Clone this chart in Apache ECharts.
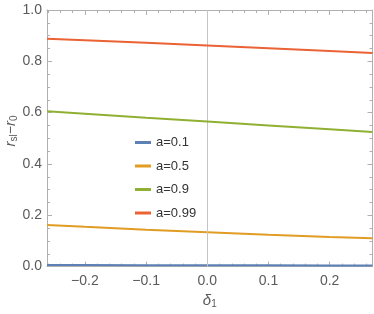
<!DOCTYPE html>
<html><head><meta charset="utf-8">
<script src="https://cdn.jsdelivr.net/npm/echarts@6/dist/echarts.min.js"></script>
<style>html,body{margin:0;padding:0;background:#fff}#c{width:374px;height:314px}</style>
</head><body><div id="c"></div>
<script>
const deltas = [-0.262, -0.2, -0.1, 0.0, 0.1, 0.2, 0.27];
const a01  = [0.006, 0.006, 0.005, 0.005, 0.005, 0.004, 0.004];
const a05  = [0.162, 0.155, 0.144, 0.134, 0.124, 0.115, 0.110];
const a09  = [0.605, 0.596, 0.580, 0.565, 0.550, 0.535, 0.525];
const a099 = [0.888, 0.882, 0.872, 0.862, 0.851, 0.840, 0.832];
const seriesNames = ['a=0.1', 'a=0.5', 'a=0.9', 'a=0.99'];
const colors = ['#5E81B5', '#E19C24', '#8FB032', '#EB6235'];
const yTicks = [0, 0.2, 0.4, 0.6, 0.8, 1.0];

const chart = echarts.init(document.getElementById('c'), null, {renderer: 'canvas'});
const frame = '#b0b0b0';
const lblColor = '#5a5a5a';
const font = 'Liberation Sans, Arial, sans-serif';
function mk(name, vals, i) {
  return {
    name: name, type: 'line', data: deltas.map((d, k) => [d, vals[k]]),
    showSymbol: false, symbol: 'none', smooth: false,
    lineStyle: {color: colors[i], width: 2}, itemStyle: {color: colors[i]},
    z: 3 + i
  };
}
const series = [mk(seriesNames[0], a01, 0), mk(seriesNames[1], a05, 1), mk(seriesNames[2], a09, 2), mk(seriesNames[3], a099, 3)];
series.push({
  type: 'line', data: [], silent: true,
  markLine: {silent: true, symbol: 'none', label: {show: false},
    lineStyle: {color: '#c4c4c4', width: 1, type: 'solid'},
    data: [{xAxis: 0}]}
});
const xBase = {
  type: 'value', min: -0.262, max: 0.27,
  axisLine: {show: true, onZero: false, lineStyle: {color: frame, width: 1}},
  axisTick: {show: true, inside: true, length: 5, lineStyle: {color: frame}},
  minorTick: {show: true, splitNumber: 5, length: 3, lineStyle: {color: frame}},
  splitLine: {show: false}
};
const yBase = {
  type: 'value', min: 0, max: 1, interval: 0.2,
  axisLine: {show: true, onZero: false, lineStyle: {color: frame, width: 1}},
  axisTick: {show: true, inside: true, length: 5, lineStyle: {color: frame}},
  minorTick: {show: true, splitNumber: 4, length: 3, lineStyle: {color: frame}},
  splitLine: {show: false}
};
chart.setOption({
  animation: false,
  backgroundColor: '#fff',
  color: colors,
  grid: {left: 47, right: 1.5, top: 10, bottom: 46, containLabel: false},
  legend: {
    show: true, orient: 'vertical', left: 130, top: 131,
    icon: 'rect', itemWidth: 16, itemHeight: 3, itemGap: 10.5, itemTextGap: 7,
    data: seriesNames,
    textStyle: {color: '#333', fontSize: 13, fontFamily: font}
  },
  xAxis: [
    Object.assign({}, xBase, {
      position: 'bottom',
      axisLabel: {show: true, color: lblColor, fontSize: 14, fontFamily: font, margin: 8,
        showMinLabel: false, showMaxLabel: false,
        formatter: v => (Math.abs(v) < 1e-9 ? '0.0' : (v < 0 ? '\u2212' + Math.abs(v).toFixed(1) : v.toFixed(1)))},
      name: '{i|δ}{s|1}', nameLocation: 'middle', nameGap: 24,
      nameTextStyle: {rich: {
        i: {fontSize: 15, fontStyle: 'italic', color: lblColor, fontFamily: font},
        s: {fontSize: 10, color: lblColor, fontFamily: font, verticalAlign: 'bottom', padding: [6, 0, 0, 0]}
      }}
    }),
    Object.assign({}, xBase, {position: 'top', axisLabel: {show: false}})
  ],
  yAxis: [
    Object.assign({}, yBase, {
      position: 'left',
      axisLabel: {show: true, color: lblColor, fontSize: 14, fontFamily: font, margin: 5,
        formatter: v => v.toFixed(1)}
    }),
    Object.assign({}, yBase, {position: 'right', axisLabel: {show: false}})
  ],
  graphic: [{
    type: 'text', x: 11, y: 131, rotation: Math.PI / 2,
    style: {
      text: '{r|r}{s|sl}{m|\u2212}{r|r}{s|0}',
      align: 'center', verticalAlign: 'middle',
      rich: {
        r: {fontSize: 15, fontStyle: 'italic', fill: lblColor, fontFamily: font},
        m: {fontSize: 14, fill: lblColor, fontFamily: font},
        s: {fontSize: 10, fill: lblColor, fontFamily: font, padding: [6, 0, 0, 0]}
      }
    }
  }],
  series: series
});
</script></body></html>
